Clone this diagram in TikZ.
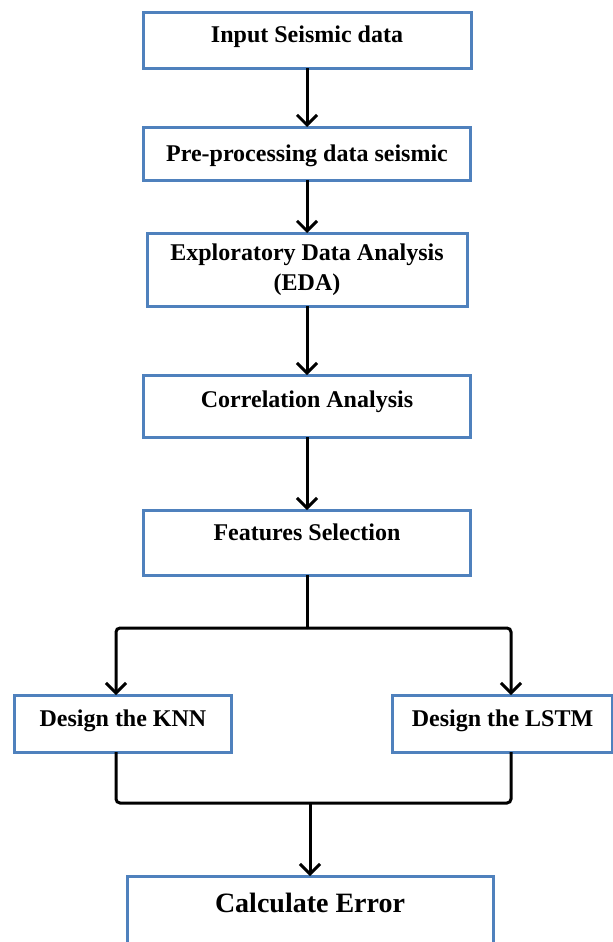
\documentclass[tikz,border=0pt]{standalone}
\usepackage{fontspec}
\setmainfont{Liberation Serif}
\usetikzlibrary{positioning}
\usetikzlibrary{arrows.meta}

\definecolor{boxblue}{RGB}{79,129,189}

\tikzset{
  stepbox/.style={draw=boxblue, line width=1.5pt, rectangle, inner xsep=4pt, inner ysep=0pt, outer sep=0pt,
    font=\fontsize{12}{15}\selectfont\bfseries, align=center},
  flow/.style={line width=1.5pt, draw=black}
}

\begin{document}
\begin{tikzpicture}[x=0.5pt,y=-0.5pt,>={Straight Barb[length=5pt,width=10pt]}]
  \useasboundingbox (0,0) rectangle (613,942);
  \clip (0,0) rectangle (613,942);

  \node[stepbox, minimum width=164pt, text height=15pt, text depth=13pt] (Input) at (307,40) {Input Seismic data};
  \node[stepbox, minimum width=163.5pt, text height=17pt, text depth=9.5pt] (Prep) [below=29.5pt of Input] {Pre-processing data seismic};
  \node[stepbox, minimum width=160pt, minimum height=36.5pt] (EDA) [below=26.5pt of Prep] {Exploratory Data Analysis\\(EDA)};
  \node[stepbox, minimum width=163.5pt, text height=16pt, text depth=15pt] (Corr) [below=34.5pt of EDA] {Correlation Analysis};
  \node[stepbox, minimum width=163.5pt, text height=15pt, text depth=17.5pt] (Feat) [below=36.5pt of Corr] {Features Selection};
  \node[stepbox, minimum width=108.5pt, text height=15.5pt, text depth=13pt] (KNN) [below=60pt of Feat, xshift=-92pt] {Design the KNN};
  \node[stepbox, minimum width=110pt, text height=15.5pt, text depth=13pt] (LSTM) [below=60pt of Feat, xshift=97.75pt] {Design the LSTM};
  \node[stepbox, anchor=north, font=\fontsize{14}{17}\selectfont\bfseries, minimum width=183pt, text height=18pt, text depth=40pt] (Calc) at (310,876) {Calculate Error};

  \draw[flow,->] (Input) -- (Prep);
  \draw[flow,->] (Prep) -- (EDA);
  \draw[flow,->] (EDA) -- (Corr);
  \draw[flow,->] (Corr) -- (Feat);

  % split to the two models
  \draw[flow] (Feat.south) -- ++(0,53) coordinate (split);
  \draw[flow,->,rounded corners=2pt] (split) -| ([xshift=-3.5pt]KNN.north);
  \draw[flow,->,rounded corners=2pt] (split) -| ([xshift=4.25pt]LSTM.north);

  % join back
  \coordinate (merge) at (310,803);
  \draw[flow,rounded corners=2pt] ([xshift=-3.5pt]KNN.south) |- (merge) -| ([xshift=4.25pt]LSTM.south);
  \draw[flow,->] (merge) -- (Calc);
\end{tikzpicture}
\end{document}
